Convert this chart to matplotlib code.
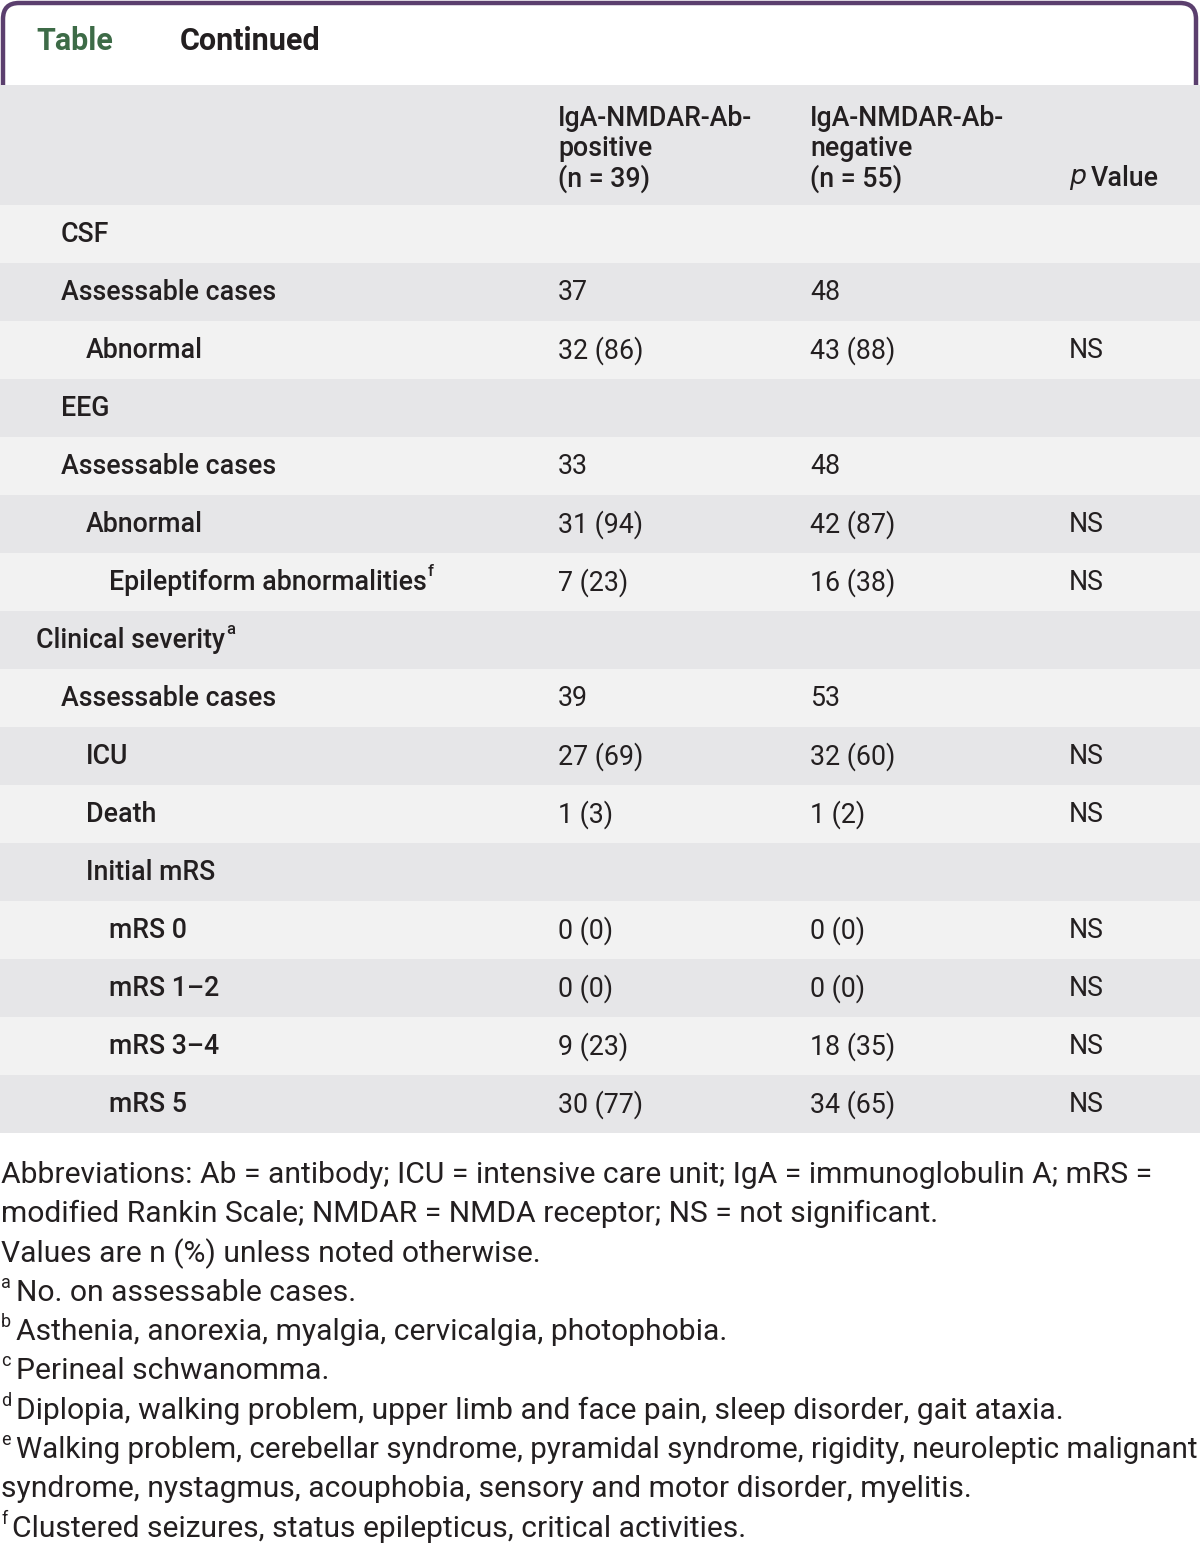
import matplotlib
matplotlib.use("Agg")
import matplotlib.pyplot as plt
from matplotlib.patches import FancyBboxPatch, Rectangle

# table content
row_labels = ["CSF", "Assessable cases", "Abnormal", "EEG", "Assessable cases", "Abnormal",
              "Epileptiform abnormalities", "Clinical severity", "Assessable cases", "ICU",
              "Death", "Initial mRS", "mRS 0", "mRS 1\u20132", "mRS 3\u20134", "mRS 5"]
row_levels = [1, 1, 2, 1, 1, 2, 3, 0, 1, 2, 2, 2, 3, 3, 3, 3]
row_sups = ["", "", "", "", "", "", "f", "a", "", "", "", "", "", "", "", ""]
pos_vals = ["", "37", "32 (86)", "", "33", "31 (94)", "7 (23)", "", "39", "27 (69)",
            "1 (3)", "", "0 (0)", "0 (0)", "9 (23)", "30 (77)"]
neg_vals = ["", "48", "43 (88)", "", "48", "42 (87)", "16 (38)", "", "53", "32 (60)",
            "1 (2)", "", "0 (0)", "0 (0)", "18 (35)", "34 (65)"]
p_vals = ["", "", "NS", "", "", "NS", "NS", "", "", "NS", "NS", "", "NS", "NS", "NS", "NS"]

header_pos = ["IgA-NMDAR-Ab-", "positive", "(n = 39)"]
header_neg = ["IgA-NMDAR-Ab-", "negative", "(n = 55)"]

footnotes = [
    ("", "Abbreviations: Ab = antibody; ICU = intensive care unit; IgA = immunoglobulin A; mRS ="),
    ("", "modified Rankin Scale; NMDAR = NMDA receptor; NS = not significant."),
    ("", "Values are n (%) unless noted otherwise."),
    ("a", "No. on assessable cases."),
    ("b", "Asthenia, anorexia, myalgia, cervicalgia, photophobia."),
    ("c", "Perineal schwanomma."),
    ("d", "Diplopia, walking problem, upper limb and face pain, sleep disorder, gait ataxia."),
    ("e", "Walking problem, cerebellar syndrome, pyramidal syndrome, rigidity, neuroleptic malignant"),
    ("", "syndrome, nystagmus, acouphobia, sensory and motor disorder, myelitis."),
    ("f", "Clustered seizures, status epilepticus, critical activities."),
]

W, H = 1200, 1544
purple = "#5b3f6e"
green = "#3d6b47"
ink = "#231f20"
gray = "#e6e6e8"
light = "#f2f2f2"
font = "Roboto"
fs = 19.3

fig = plt.figure(figsize=(W / 100, H / 100), dpi=100)
ax = fig.add_axes([0, 0, 1, 1])
ax.set_xlim(0, W)
ax.set_ylim(H, 0)
ax.axis("off")

# tab at the top
tab = FancyBboxPatch((3, 3), W - 7, 110, boxstyle="round,pad=0,rounding_size=16",
                     facecolor="white", edgecolor=purple, linewidth=3.2, zorder=1)
ax.add_patch(tab)
ax.text(36, 41, "Table", color=green, fontsize=22, fontweight="bold", family=font,
        va="center", ha="left", zorder=5)
ax.text(180, 41, "Continued", color=ink, fontsize=22, fontweight="bold", family=font,
        va="center", ha="left", zorder=5)

# header block
top, head_h, row_h = 85, 120, 58
ax.add_patch(Rectangle((0, top), W, head_h, facecolor=gray, edgecolor="none", zorder=2))
col_x = [558, 810, 1069]
for i, (a, b) in enumerate(zip(header_pos, header_neg)):
    y = 119 + 30 * i
    ax.text(col_x[0], y, a, color=ink, fontsize=fs, fontweight="medium", family=font,
            va="center", zorder=5)
    ax.text(col_x[1], y, b, color=ink, fontsize=fs, fontweight="medium", family=font,
            va="center", zorder=5)
ax.text(col_x[2], 179, r"$\it{p}$", color=ink, fontsize=fs, va="center", zorder=5)
ax.text(col_x[2] + 22, 179, "Value", color=ink, fontsize=fs, fontweight="medium",
        family=font, va="center", zorder=5)

indent = [36, 61, 86, 109]
fig.canvas.draw()
renderer = fig.canvas.get_renderer()
y0 = top + head_h
for i, lab in enumerate(row_labels):
    ry = y0 + i * row_h
    ax.add_patch(Rectangle((0, ry), W, row_h, facecolor=light if i % 2 == 0 else gray,
                           edgecolor="none", zorder=2))
    cy = ry + row_h / 2 + 1
    t = ax.text(indent[row_levels[i]], cy, lab, color=ink, fontsize=fs, fontweight="medium",
                family=font, va="center", zorder=5)
    if row_sups[i]:
        bb = t.get_window_extent(renderer)
        ax.text(bb.x1 + 1, cy - 11, row_sups[i], color=ink, fontsize=12,
                fontweight="medium", family=font, va="center", zorder=5)
    for x, v in zip(col_x, [pos_vals[i], neg_vals[i], p_vals[i]]):
        ax.text(x, cy, v, color=ink, fontsize=fs, family=font, va="center", zorder=5)

# footnotes
ffs = 21.6
fy = 1175
for sup, txt in footnotes:
    x = 1
    if sup:
        s = ax.text(1, fy - 10, sup, color=ink, fontsize=13, family=font, va="center")
        x = s.get_window_extent(renderer).x1 + 5
    t = ax.text(x, fy, txt, color=ink, fontsize=ffs, family=font, va="center")
    bb = t.get_window_extent(renderer)
    if bb.x1 > W - 2:
        t.set_fontsize(ffs * (W - 2 - x) / (bb.x1 - x))
    fy += 39.3

fig.savefig("out.png", dpi=100)
